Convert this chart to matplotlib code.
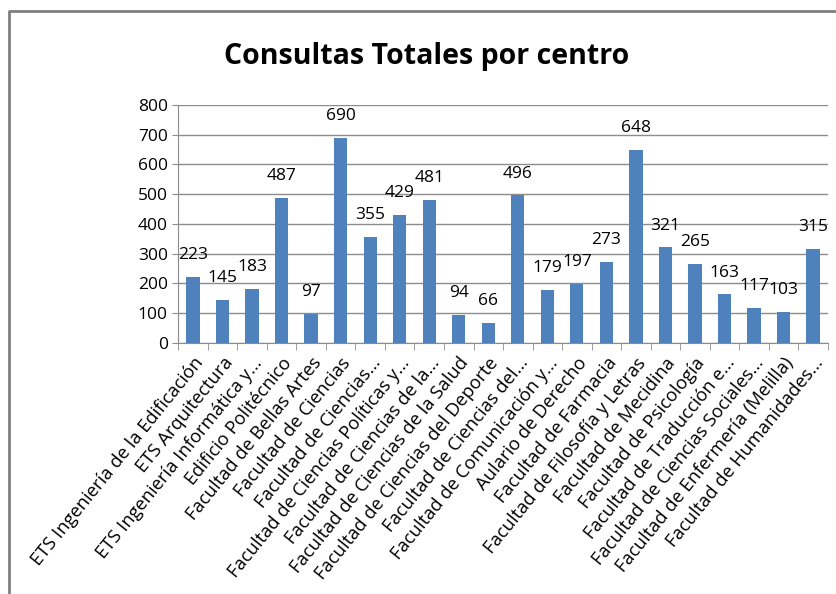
import numpy as np
import matplotlib.pyplot as plt
from matplotlib.lines import Line2D

plt.rcParams['font.family'] = ['Open Sans', 'DejaVu Sans']

centros = [
    'ETS Ingeniería de la Edificación', 'ETS Arquitectura',
    'ETS Ingeniería Informática y...', 'Edificio Politécnico',
    'Facultad de Bellas Artes', 'Facultad de Ciencias',
    'Facultad de Ciencias...', 'Facultad de Ciencias Políticas y...',
    'Facultad de Ciencias de la...', 'Facultad de Ciencias de la Salud',
    'Facultad de Ciencias del Deporte', 'Facultad de Ciencias del...',
    'Facultad de Comunicación y...', 'Aulario de Derecho',
    'Facultad de Farmacia', 'Facultad de Filosofía y Letras',
    'Facultad de Mecidina', 'Facultad de Psicología',
    'Facultad de Traducción e...', 'Facultad de Ciencias Sociales...',
    'Facultad de Enfermería (Melilla)', 'Facultad de Humanidades...',
]
consultas = [223, 145, 183, 487, 97, 690, 355, 429, 481, 94, 66,
             496, 179, 197, 273, 648, 321, 265, 163, 117, 103, 315]

fig = plt.figure(figsize=(8.37, 5.94), dpi=100)
# frame of the pasted chart: only top and left edges are visible
fig.lines.append(Line2D([0.0105, 0.0105, 1.0], [0.0, 0.981, 0.981], transform=fig.transFigure,
                        color='#7f7f7f', linewidth=2))
ax = fig.add_axes([0.213, 0.4226, 0.776, 0.4007])

x = np.arange(len(consultas))
bars = ax.bar(x, consultas, width=0.45, color='#4F81BD', zorder=3)
for xi, v in zip(x, consultas):
    ax.annotate(str(v), (xi, v), xytext=(0, 10), textcoords='offset points',
                ha='center', va='bottom', fontsize=12.5)

ax.set_xlim(-0.5, len(consultas) - 0.5)
ax.set_ylim(0, 800)
ax.set_yticks(range(0, 801, 100))
ax.tick_params(axis='y', labelsize=12.5, length=4, color='#8c8c8c')
ax.yaxis.grid(True, color='#8c8c8c', linewidth=1.0, zorder=0)

ax.set_xticks(x)
ax.set_xticklabels(centros, rotation=51, ha='right', rotation_mode='anchor', fontsize=13.2)
ax.set_xticks(np.arange(-0.5, len(consultas)), minor=True)
ax.tick_params(axis='x', which='major', length=0, pad=8)
ax.tick_params(axis='x', which='minor', length=5, color='#8c8c8c')

for s in ['top', 'right']:
    ax.spines[s].set_visible(False)
for s in ['left', 'bottom']:
    ax.spines[s].set_color('#8c8c8c')

fig.text(0.51, 0.905, 'Consultas Totales por centro', ha='center', va='center',
         fontsize=20.5, fontweight='bold')

fig.savefig('out.png', dpi=100)
